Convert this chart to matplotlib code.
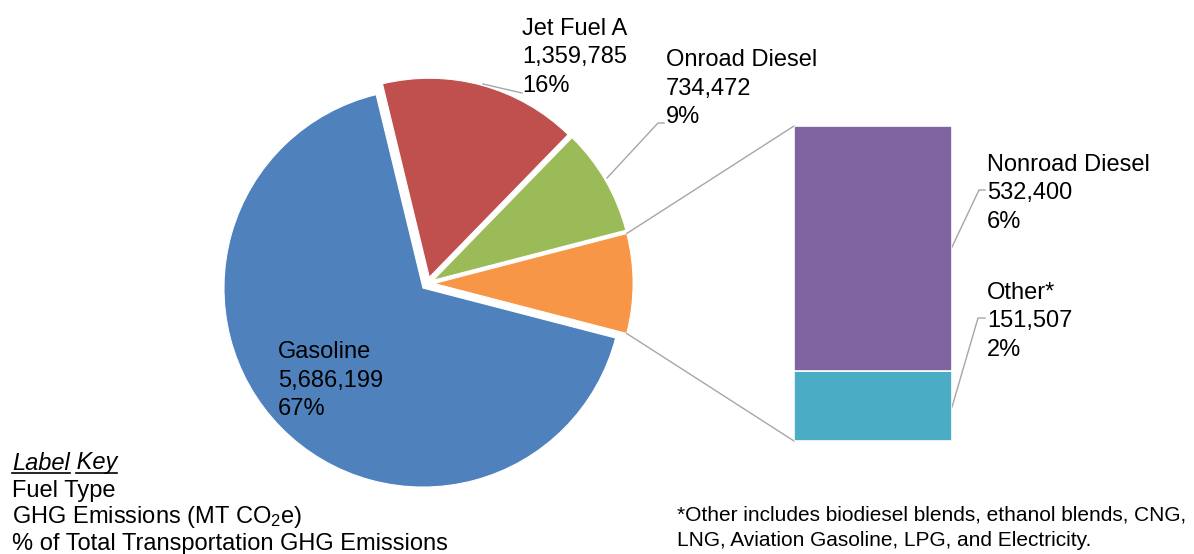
import math
import matplotlib
matplotlib.use("Agg")
import matplotlib.pyplot as plt

plt.rcParams['font.family'] = ['Liberation Sans', 'DejaVu Sans']
plt.rcParams['mathtext.fontset'] = 'custom'
plt.rcParams['mathtext.rm'] = 'Liberation Sans'
plt.rcParams['mathtext.it'] = 'Liberation Sans:italic'

# ---- data ----
pie_fuels = ['Gasoline', 'Jet Fuel A', 'Onroad Diesel']
pie_emissions = [5686199, 1359785, 734472]
bar_fuels = ['Nonroad Diesel', 'Other*']
bar_emissions = [532400, 151507]
pie_colors = ['#4F81BD', '#C0504D', '#9BBB59']
other_color = '#F79646'
bar_colors = ['#8064A2', '#4BACC6']
key_lines = ['Fuel Type', 'GHG Emissions (MT CO$_\\mathrm{2}$e)',
             '% of Total Transportation GHG Emissions']
footnote = ('*Other includes biodiesel blends, ethanol blends, CNG,\n'
            'LNG, Aviation Gasoline, LPG, and Electricity.')

W, H = 1194, 554
fig = plt.figure(figsize=(W / 100, H / 100), dpi=100)
ax = fig.add_axes([0, 0, 1, 1])

def Y(py):
    return H - py

total = sum(pie_emissions) + sum(bar_emissions)
other_total = sum(bar_emissions)
other_deg = other_total / total * 360.0

# pie order counter-clockwise starting from the combined "other" slice on the right
vals = [other_total, pie_emissions[2], pie_emissions[1], pie_emissions[0]]
cols = [other_color, pie_colors[2], pie_colors[1], pie_colors[0]]
cx, cy, r, ex = 427.6, Y(283.5), 199, 6.5
ax.pie(vals, colors=cols, center=(cx, cy), radius=r, startangle=-other_deg / 2,
       counterclock=True, explode=[ex] * 4,
       wedgeprops=dict(linewidth=0.8, edgecolor='white'))
ax.set_xlim(0, W)
ax.set_ylim(0, H)
ax.set_aspect('equal')
ax.axis('off')

# bar of the "other" slice
bx0, bx1, by0, by1 = 794, 952, 126, 441
bax = fig.add_axes([bx0 / W, (H - by1) / H, (bx1 - bx0) / W, (by1 - by0) / H])
bottom = 0
for v, c in zip(reversed(bar_emissions), reversed(bar_colors)):
    bax.bar(0, v, bottom=bottom, width=1.0, color=c, edgecolor='white', linewidth=1.2)
    bottom += v
bax.set_xlim(-0.5, 0.5)
bax.set_ylim(0, other_total)
bax.axis('off')

# connector lines from other slice to bar
ocx = cx + ex
half = math.radians(other_deg / 2)
line_kw = dict(color='#A6A6A6', linewidth=1.0)
p_top = (ocx + r * math.cos(half), cy + r * math.sin(half))
p_bot = (ocx + r * math.cos(-half), cy + r * math.sin(-half))
ax.plot([p_top[0], bx0], [p_top[1], Y(by0)], **line_kw)
ax.plot([p_bot[0], bx0], [p_bot[1], Y(by1)], **line_kw)

# labels
fs = 17
def pct(v):
    return f"{round(v / total * 100):.0f}%"

def label(x, ymid, name, v):
    ax.text(x, Y(ymid), f"{name}\n{v:,}\n{pct(v)}", fontsize=fs, ha='left',
            va='center', linespacing=1.36, color='black')

label(278, 380.5, pie_fuels[0], pie_emissions[0])
label(522, 57.5, pie_fuels[1], pie_emissions[1])
label(666, 88.5, pie_fuels[2], pie_emissions[2])
label(987, 193.5, bar_fuels[0], bar_emissions[0])
label(987, 321.5, bar_fuels[1], bar_emissions[1])

# leader lines
ax.plot([522, 483], [Y(93), Y(84)], **line_kw)
ax.plot([664, 658, 607], [Y(123), Y(123), Y(178)], **line_kw)
ax.plot([985, 979, 952], [Y(190), Y(190), Y(247)], **line_kw)
ax.plot([985, 978, 952], [Y(318), Y(318), Y(407)], **line_kw)

# label key
ky = 463
t1 = ax.text(12, Y(ky), 'Label', fontsize=fs, style='italic', ha='left', va='center')
fig.canvas.draw()
rend = fig.canvas.get_renderer()
bb1 = t1.get_window_extent(rend)
t2 = ax.text(bb1.x1, Y(ky), ' Key', fontsize=fs, style='italic', ha='left', va='center')
bb2 = t2.get_window_extent(rend)
ks = ax.text(0, 0, 'Key', fontsize=fs, style='italic')
kb = ks.get_window_extent(rend)
ks.remove()
uy = Y(472.5)
ax.plot([12, bb1.x1], [uy, uy], color='black', linewidth=1.2)
ax.plot([bb2.x1 - kb.width, bb2.x1], [uy, uy], color='black', linewidth=1.2)

for i, s in enumerate(key_lines):
    ax.text(12, Y(490.5 + 26.8 * i), s, fontsize=fs, ha='left', va='center')

ax.text(677, Y(527.5), footnote, fontsize=15, ha='left', va='center', linespacing=1.45)

fig.savefig('out.png', dpi=100)
